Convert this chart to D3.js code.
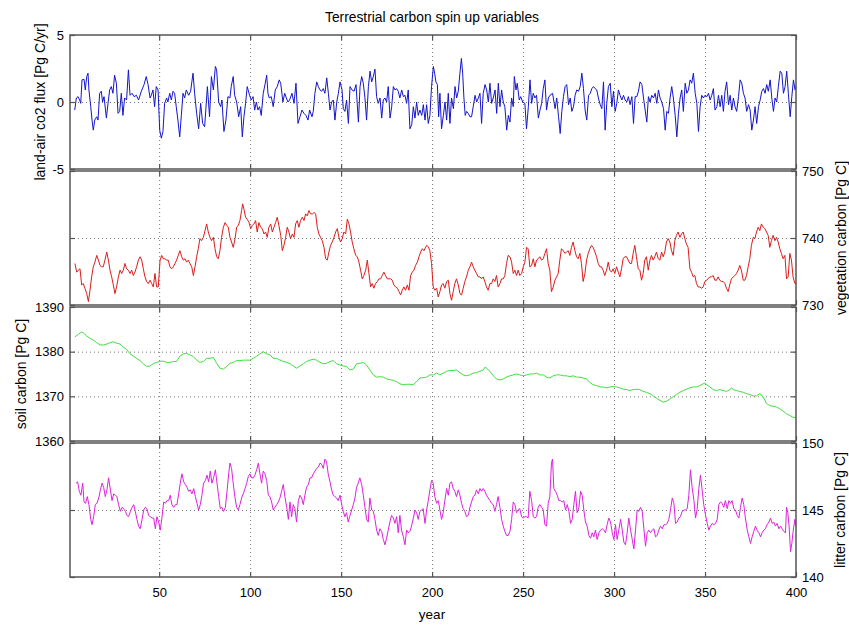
<!DOCTYPE html>
<html>
<head>
<meta charset="utf-8">
<script src="https://cdn.jsdelivr.net/npm/d3@7"></script>
<style>
  body { margin: 0; background: #fff; }
  text { font-family: "Liberation Sans", Arial, sans-serif; fill: #000; }
</style>
</head>
<body>
<div id="chart"></div>
<script>
// year axis
var yearRange = [1, 400];
var xTicks = [50, 100, 150, 200, 250, 300, 350, 400];
var xGrid = [50, 100, 150, 200, 250, 300, 350];

// land-air co2 flux [Pg C/yr]  -> [year, value]
var flux = [
[3.6,-0.6],[4.5,0.3],[5.4,0.4],[6.3,0.15],[6.9,-0.1],[7.6,1.65],[8.7,1.7],[9.4,0.9],[10.2,1.9],[10.9,2.15],
[11.4,0.9],[12.4,-0.35],[13.1,-1.35],[13.8,-2.1],[14.6,-1.35],[15.7,-1.1],[16.4,-1.35],[17.3,0.65],[18.2,0.8],[18.9,0],
[19.7,0.4],[21.0,-1.2],[21.9,-0.1],[22.8,0.9],[23.7,1.15],[24.6,0.65],[25.5,2.0],[26.5,1.4],[27.4,-0.85],[28.3,-0.7],
[29.2,0.65],[30.1,-1.0],[31.0,0.3],[32.1,0.15],[33.1,2.4],[34.0,0.5],[35.1,0.65],[36.2,0.4],[37.5,0.5],[38.7,0.15],
[40.2,0.8],[41.7,1.3],[42.9,1.9],[43.9,1.3],[45.0,0.3],[45.7,0.5],[46.6,0.9],[47.5,-0.35],[48.4,1.15],[49.4,0.9],
[50.3,-2.1],[51.2,-2.7],[52.1,-2.2],[53.0,-0.1],[54.1,0.3],[54.8,0],[55.8,0.65],[56.7,0.15],[57.6,0.8],[58.5,0.65],
[59.4,-0.35],[60.3,-1.35],[61.3,-2.6],[62.2,-1.0],[63.1,0.65],[64.0,0.3],[64.9,0.9],[66.2,0.5],[67.3,0.8],[68.6,2.15],
[69.5,0.65],[70.6,-0.85],[71.7,-2.0],[72.8,-0.1],[73.9,-1.6],[75.0,-1.85],[76.5,1.15],[77.7,-1.1],[78.7,1.9],[79.8,0.9],
[80.9,2.65],[81.6,2.4],[82.7,0],[83.8,-0.35],[84.5,0.15],[85.6,-2.2],[86.7,-1.35],[87.8,0.4],[88.9,0.3],[89.6,1.15],
[90.7,1.9],[91.5,0.5],[92.6,0],[93.7,-1.1],[94.8,-0.35],[95.7,-2.6],[96.6,-1.1],[97.5,-0.1],[98.4,1.15],[99.7,0.5],
[100.6,0.15],[101.6,0.4],[102.5,-0.6],[103.4,0],[104.3,-0.6],[105.2,-0.35],[106.1,-1.0],[107.2,0.65],[108.3,1.4],[109.1,2.0],
[109.8,0.65],[110.5,0.3],[111.6,0.4],[112.7,-0.35],[113.8,0.9],[114.9,1.15],[116.0,1.65],[116.8,1.4],[118.0,0],[119.0,0.65],
[119.9,0.3],[120.8,0],[121.7,0.15],[123.0,0.65],[124.1,-0.1],[125.2,1.4],[126.3,-1.6],[127.4,-1.1],[128.5,-0.6],[129.6,-0.85],
[130.7,-1.0],[131.8,-1.35],[132.7,-0.6],[134.0,-1.1],
[134.7,-0.7],[135.6,0.65],[136.6,1.5],[137.5,1.15],[138.4,0.9],[139.3,0.8],[140.2,1.0],[141.1,0.65],[142.1,1.8],[143.0,0.65],
[143.9,-0.6],[144.8,0],[145.7,0.15],[146.6,-1.35],[147.6,0],[148.5,0.65],[149.4,1.5],[150.5,0.9],[151.2,-0.5],[152.1,-0.7],
[153.0,0.15],[154.0,-1.6],[154.9,1.15],[156.0,0.9],[157.1,0.8],[158.2,1.3],[159.5,-1.5],[160.4,1.15],[161.3,1.9],[162.2,1.4],
[163.1,0.3],[164.0,-1.35],[165.0,1.15],[165.9,2.3],[166.8,1.5],[167.7,1.9],[168.6,2.45],[169.5,0.4],[170.4,-0.1],[171.4,0.3],
[172.3,-1.2],[173.2,0.15],[174.1,0.3],[175.0,0],[175.9,1.15],[176.9,-1.2],[177.8,-0.35],[178.7,1.15],[179.6,0.9],[180.5,1.0],
[181.4,0.8],[182.3,0.3],[183.3,0.9],[184.2,0.4],[185.1,0.5],[186.0,-0.1],[186.9,0.9],[187.8,-2.0],[188.8,-1.7],[189.7,-0.35],
[190.6,-1.2],[191.5,0],[192.4,-1.0],[193.3,-0.6],[194.3,-1.0],[195.2,-0.2],[196.1,-1.35],[197.0,-0.2],[197.9,-1.6],[198.8,-1.0],
[199.7,1.15],[200.7,2.65],[201.4,2.15],[202.1,1.5],[202.9,1.3],[203.6,-1.1],[204.3,0.65],[205.2,-2.0],[206.2,-1.0],[207.1,0],
[208.0,-1.35],[208.9,0.65],[209.8,-1.6],[210.7,0.3],[211.7,-0.5],[212.6,1.15],[213.5,0.3],[214.4,0.8],[215.3,2.15],[216.1,3.25],
[216.8,2.15],[217.5,0.3],[218.2,-1.0],[219.0,-0.7],[219.9,-0.85],[220.8,-1.1],[221.7,-1.1],[222.6,-0.35],[223.6,0.5],[224.5,0],
[225.4,0.3],[226.3,0.65],[227.2,-1.6],[228.1,0.65],[229.1,1.3],[230.0,0.9],[230.9,0],[231.8,1.4],[232.7,-0.1],[233.6,0.3],
[234.6,0.9],[235.5,-0.85],[236.4,1.4],[237.3,-0.35],[238.2,0.9],[239.1,0],[240.0,-0.35],[241.0,-2.1],[241.9,-1.0],[242.8,-1.5],
[243.7,0.3],[244.6,-0.35],[245.2,1.9],[246.1,0.9],[246.8,1.4],[247.9,0.15],[248.7,0.4],[249.8,0],[251.0,-0.1],[251.9,-2.0],
[252.9,-0.35],[253.8,1.65],[254.7,-0.1],[255.6,0.65],[256.5,0.3],[257.4,0.5],[258.4,-1.2],[259.3,-0.6],[260.2,-0.1],[261.1,1.0],
[262.0,1.65],[262.9,-0.6],[263.9,0.3],[264.8,0.5],
[266.2,0.65],[267.6,-0.5],[268.5,0.3],[269.5,-1.1],[270.4,-2.35],[271.3,-0.7],[272.2,0.4],[273.1,1.15],[274.0,1.3],[275.0,-0.2],
[275.9,0.3],[276.8,-0.7],[277.7,-0.35],[278.6,0.5],[279.5,0.9],[280.5,0.8],[281.4,1.15],[282.3,2.15],[283.2,1.0],[284.1,-0.6],
[285.0,-1.35],[286.0,0.5],[286.9,0.65],[287.8,1.0],[288.7,1.15],[289.6,1.0],[290.5,0.9],[291.4,0.3],[292.4,-0.2],[293.3,-0.5],
[294.2,1.5],[295.1,-2.1],[296.0,-0.1],[296.9,1.15],[297.9,1.4],[298.8,-0.35],[299.7,0.8],[300.6,-0.7],[301.5,-0.1],[302.4,0.9],
[303.3,0.5],[304.3,0.15],[305.2,0.5],[306.1,0.15],[307.0,0],[307.9,0.4],[308.8,-0.2],[309.8,0.4],[310.7,-1.6],[311.6,0.4],
[312.5,0.4],[313.4,0.8],[314.3,1.5],[315.3,1.3],[316.2,0.3],[317.1,-0.6],[318.0,-1.5],[318.9,0.4],[319.8,0],[320.7,0.5],
[321.7,0.3],[322.6,0.65],[323.5,-0.1],[324.4,0.9],[325.3,0.3],[326.2,0],[327.2,-0.5],[328.1,-2.1],[329.0,-0.7],[329.9,-0.85],
[330.8,0.3],[331.7,1.15],[332.6,0.3],[333.6,-1.0],[334.5,-2.6],[335.4,-0.85],[336.3,0.3],[337.2,0.9],[338.1,-0.7],[339.1,1.4],
[340.0,0.65],[340.9,0.9],[341.8,1.65],[342.7,1.4],[343.6,2.15],[344.6,0.65],[345.5,-0.1],[346.4,-2.2],[347.3,-0.35],[348.2,0.5],
[349.1,0.3],[350.0,0.5],[351.0,0.4],[351.9,0.65],[352.8,0.15],[353.7,0.5],[354.6,1.0],[355.5,-0.6],[356.5,-0.35],[357.4,0.5],
[358.3,-0.35],[359.2,0.5],[360.1,-0.7],[361.0,0.8],[361.9,1.5],[362.9,-0.2],[363.8,0.5],[364.7,-0.6],[365.6,0.3],[366.5,-0.35],
[367.4,-0.7],[368.4,0.4],[369.3,1.65],[370.2,1.4],[371.1,0.65],[372.0,0.3],[372.9,-0.7],[373.9,-0.2],[374.8,-0.6],[375.7,-2.1],
[376.6,-1.35],[377.5,-0.35],[378.4,-1.6],[379.4,-0.35],[380.3,0.15],[381.2,0.8],[382.1,1.0],[383.0,0.65],[383.9,1.3],[384.8,0.8],
[385.8,1.65],[386.7,0.3],[387.6,-0.7],[388.5,0.3],[389.4,0],[390.3,1.15],[391.3,2.3],[392.2,2.15],[393.1,0.65],[394.0,1.15],
[394.9,2.3],[395.8,0.65],[396.8,-1.1],[397.7,0.4],[398.6,1.65],[399.5,0.9],[400,1.15]
];

// vegetation carbon [Pg C]
var veg = [
[3.7,736.2],[4.7,734.9],[5.6,735.2],[6.5,735.4],[7.4,733.0],[8.3,733.2],[9.2,732.5],[10.2,731.7],[11.1,730.5],[12.0,732.2],
[12.9,734.2],[13.8,735.7],[14.7,736.4],[15.7,737.4],[16.6,736.7],[17.5,735.9],[18.4,735.7],[19.3,735.7],[20.2,736.7],[21.2,737.9],
[22.1,736.7],[23.0,735.2],[23.9,734.2],[24.8,733.0],[25.7,731.7],[26.6,732.7],[27.6,734.2],[28.5,735.2],[29.4,734.7],[30.3,735.2],
[31.2,736.2],[32.1,735.4],[33.1,735.2],[34.0,734.7],[34.9,735.2],[35.8,734.4],[36.7,734.9],[37.6,735.7],[38.6,736.7],[39.5,737.2],
[40.4,736.7],[41.3,735.4],[42.2,734.2],[43.1,733.5],[44.0,733.2],[45.0,733.7],[45.9,733.2],[46.8,732.7],[47.7,734.7],[48.6,732.7],
[49.5,732.7],[50.5,736.7],[51.4,737.4],[52.3,736.9],[53.2,736.9],[54.1,736.7],[55.0,736.7],[55.9,735.7],[56.9,735.4],[57.8,735.7],
[58.7,736.2],[59.6,736.7],[60.5,737.4],[61.4,738.1],[62.4,737.2],[63.3,736.7],[64.2,736.9],[65.1,736.4],[66.0,736.7],[66.9,736.2],
[67.9,735.7],[68.8,734.4],[69.7,735.7],[70.6,737.2],[71.5,738.4],[72.4,739.9],[73.3,739.6],[74.3,740.1],[75.2,741.1],[76.1,742.1],
[77.0,740.9],[77.9,740.1],[78.8,739.6],[79.8,740.1],[80.7,738.4],[81.6,737.2],[82.5,736.9],[83.4,738.1],[84.3,740.1],[85.3,741.6],
[86.2,742.3],[87.1,741.9],[88.0,741.6],[88.9,740.1],[89.8,739.4],[90.7,738.6],[91.7,739.9],[92.6,741.6],[93.5,741.9],[94.4,742.6],
[95.3,744.1],[95.9,745.1],[96.6,744.3],[97.5,743.1],[98.4,742.8],[99.4,742.3],[100.3,741.4],[101.2,741.9],[102.1,742.1],[103.0,742.6],
[103.9,740.9],[104.8,742.3],[105.8,741.6],[106.7,741.4],[107.6,740.6],[108.5,740.9],[109.4,740.1],[110.3,741.6],[111.3,742.1],[112.2,740.9],
[113.1,741.6],[114.0,742.3],[114.9,743.1],[115.8,741.9],[116.8,740.4],[117.7,738.1],[118.6,738.9],[119.5,740.1],[120.4,741.6],[121.3,740.9],
[122.2,739.9],[123.2,740.6],[124.1,740.1],[125.0,742.1],[125.9,742.6],[126.8,741.6],[127.7,742.6],[128.7,743.1],[129.6,742.6],[130.5,743.6],
[131.4,743.3],[132.3,744.1],[133.2,743.6],[134.2,743.6],[135.1,743.8],[136.0,743.6],[136.9,741.6],[137.8,740.6],[138.7,740.1],[139.6,739.6],
[140.6,738.6],[141.5,736.9],[142.4,736.7],[143.3,737.9],[144.2,738.9],[145.1,739.4],[146.1,740.1],[147.0,740.9],[147.9,741.4],[148.8,740.1],
[149.7,739.4],[150.6,739.9],[151.5,740.9],[152.5,740.6],[153.4,742.8],[154.3,742.1],[155.2,740.9],[156.1,739.4],[157.0,738.4],[158.0,737.4],
[158.9,737.2],[159.8,736.4],[160.7,735.2],[161.6,733.9],[162.5,734.4],[163.5,735.2],[164.4,736.7],[165.3,734.7],[166.2,732.7],[167.1,733.2],
[168.0,732.5],[168.9,733.2],[169.9,733.5],[170.8,733.9],[171.7,733.9],[172.6,734.4],[173.5,734.9],[174.4,734.4],[175.4,733.9],[176.3,733.9],
[177.2,733.9],[178.1,733.7],[179.0,733.0],[179.9,732.7],[180.9,732.5],[181.8,732.0],[182.7,731.5],[183.6,732.2],[184.5,732.7],[185.4,732.2],
[186.4,733.0],[187.3,732.2],[188.2,734.4],[189.1,734.9],[190.0,735.2],[190.9,735.9],[191.9,736.4],[192.8,737.2],[193.7,737.9],[194.6,738.4],
[195.5,738.1],[197.0,738.9],
[197.9,738.7],[198.8,738.1],[199.7,736.2],[200.6,732.7],[201.5,732.2],[202.5,732.5],[203.4,731.2],[204.3,732.0],[205.2,733.0],[206.1,733.2],
[207.0,732.5],[208.0,733.5],[208.9,733.7],[209.8,731.7],[210.7,730.7],[211.6,732.0],[212.5,733.2],[213.4,733.9],[214.4,733.0],[215.3,731.7],
[216.2,731.5],[217.1,732.5],[218.0,733.5],[218.9,734.2],[219.9,735.2],[220.8,735.7],[221.7,736.4],[222.6,735.7],[223.5,735.2],[224.4,734.7],
[225.4,734.2],[226.3,734.2],[227.2,733.9],[228.1,734.2],[229.0,733.5],[229.9,732.7],[230.8,732.2],[231.8,733.2],[232.7,733.2],[233.6,733.9],
[234.5,733.5],[235.4,734.4],[236.3,732.7],[237.3,733.2],[238.2,733.9],[239.1,733.9],[240.0,734.4],[240.9,736.2],[241.8,737.4],[242.8,737.2],
[243.7,736.4],[244.6,734.7],[245.5,735.2],[246.4,734.4],[247.3,735.2],[248.2,734.4],[249.2,734.7],[250.1,735.7],[251.0,736.4],[251.9,738.6],
[252.8,738.4],[253.7,735.7],[254.7,735.9],[255.6,736.9],[256.5,735.7],[257.4,736.7],[258.3,736.9],[259.2,737.2],[260.2,736.7],[261.1,736.9],
[262.0,737.7],[262.9,738.4],[263.8,736.2],[264.7,735.2],[265.6,732.0],[266.6,732.7],[267.5,733.7],[268.4,734.2],[269.3,734.7],[270.2,736.7],
[271.1,738.4],[272.1,738.1],[273.0,737.7],[273.9,737.9],[274.8,738.1],[275.7,737.4],[276.6,738.6],[277.5,739.4],[278.5,738.1],[279.4,737.2],
[280.3,736.9],[281.2,737.7],[282.1,736.2],[283.0,733.5],[284.0,734.7],[284.9,736.7],[285.8,737.7],[286.7,738.4],[287.6,738.9],[288.5,738.6],
[289.5,737.9],[290.4,737.2],[291.3,736.2],[292.2,735.7],[293.1,735.7],[294.0,735.2],[294.9,734.4],[295.9,735.2],[296.8,736.4],[297.7,735.2],
[298.6,734.9],[299.5,735.4],[300.4,734.7],[301.4,735.7],[302.3,734.9],[303.2,734.2],[304.1,735.4],[305.0,736.9],[305.9,737.2],[306.9,737.2],
[307.8,736.7],[308.7,736.2],[309.6,736.2],[310.5,737.7],[311.4,738.9],[312.3,737.2],[313.3,735.4],[314.2,735.2],[315.1,733.7],[316.0,734.7],
[316.9,736.7],[317.8,737.2],[318.8,735.2],[319.7,736.7],[320.6,737.4],[321.5,736.7],[322.4,737.2],[323.3,737.9],[324.3,736.9],[325.2,736.7],
[326.1,737.9],[327.0,737.2],[327.9,737.9],[328.8,739.4],[329.7,739.9],[330.7,739.4],[331.6,738.1],[332.5,737.4],[333.4,739.6],[334.3,740.4],
[335.2,740.9],[336.2,740.1],[337.1,740.6],[338.0,740.9],[338.9,739.9],[339.8,739.1],[340.7,738.6],[341.7,735.4],[342.6,734.9],[343.5,734.2],
[344.4,734.4],[345.3,733.2],[346.2,732.7],[347.1,732.7],[348.1,732.5],[349.0,732.7],[349.9,733.5],[350.8,733.7],[351.7,733.9],[352.6,734.2],
[353.6,734.2],[354.5,734.4],[355.4,733.7],[356.3,733.7],[357.2,734.2],[358.1,733.7],[359.1,733.5],[360.0,733.5],[360.9,733.2],[361.8,732.5],
[362.7,732.0],[363.6,733.0],[364.5,733.9],[365.5,734.2],[366.4,734.4],[367.3,734.7],[368.2,735.2],[369.1,735.9],[370.0,735.2],[371.0,733.7],
[371.9,733.7],[372.8,734.4],[373.7,735.7],[374.6,736.9],[375.5,738.9],[376.5,740.1],[377.4,739.9],[378.3,740.9],[379.2,741.6],[380.1,741.1],
[381.0,742.1],[382.0,741.6],[382.9,741.4],[383.8,740.9],[384.7,740.4],[385.6,738.6],[386.5,739.6],[387.4,740.4],[388.4,739.6],[389.3,740.1],
[390.2,739.4],[391.1,738.4],[392.0,737.7],[392.9,736.9],[393.9,737.4],[394.8,733.9],[395.7,734.2],[396.6,737.7],[397.5,736.7],[398.4,734.2],
[399.4,733.2],[400,733.2]
];

// soil carbon [Pg C]
var soil = [
[3.7,1383.3],[5.6,1383.9],[7.4,1384.4],[8.3,1384.2],[10.2,1383.5],[12.0,1383.0],[13.8,1382.6],[15.7,1382.0],[17.5,1381.5],[19.3,1381.5],
[21.2,1381.7],[23.0,1382.0],[24.8,1382.2],[26.6,1381.9],[28.5,1381.7],[30.3,1381.0],[32.1,1380.5],[34.0,1379.5],[35.8,1379.0],[37.6,1378.5],
[39.5,1378.0],[41.3,1377.3],[43.1,1376.7],[45.0,1376.8],[46.8,1377.3],[48.6,1377.6],[50.5,1377.8],[52.3,1377.9],[54.1,1377.6],[55.9,1377.6],
[57.8,1377.8],[59.6,1377.8],[61.4,1379.0],[63.3,1379.5],[65.1,1379.6],[66.9,1379.3],[68.8,1378.9],[70.6,1378.1],[72.4,1377.6],[74.3,1377.8],
[76.1,1378.5],[77.9,1378.5],[79.8,1378.7],[81.6,1377.4],[83.4,1376.3],[85.3,1376.1],[87.1,1376.7],[88.9,1377.4],[90.7,1377.6],[92.6,1378.0],
[94.4,1378.0],[96.2,1378.1],[98.1,1378.1],[99.9,1378.1],[101.7,1378.5],[103.6,1379.0],[105.4,1379.5],[107.2,1380.0],[109.1,1379.5],[110.9,1379.3],
[112.7,1378.5],[114.6,1378.5],[116.4,1378.1],[118.2,1377.8],[120.1,1377.6],[121.9,1377.3],[123.7,1376.8],[125.5,1376.3],[127.4,1376.8],[129.2,1377.3],
[131.0,1377.8],[132.9,1378.1],[134.7,1378.3],[136.5,1378.1],[138.4,1377.6],[140.2,1377.3],[142.0,1377.4],[143.9,1377.8],[145.7,1378.0],[147.5,1377.3],
[149.4,1377.0],[151.2,1376.8],[153.0,1376.7],[154.9,1375.9],[156.7,1376.1],[158.5,1377.3],[160.3,1377.4],[162.2,1377.6],[164.0,1377.0],[165.8,1375.9],
[167.7,1374.8],[169.5,1374.3],[171.3,1374.4],[173.2,1374.3],[175.0,1373.9],[176.8,1373.7],[178.7,1373.6],[180.5,1373.3],[182.3,1372.8],[184.2,1372.6],
[186.0,1372.7],[187.8,1372.7],[189.7,1372.6],[191.5,1373.3],[193.3,1374.1],
[197.0,1374.3],[198.8,1374.8],[200.6,1374.8],[202.5,1375.2],[204.3,1374.8],[206.1,1375.2],[208.0,1375.6],[209.8,1375.8],[211.6,1375.8],[213.4,1375.9],
[215.3,1375.3],[217.1,1374.8],[218.9,1374.6],[220.8,1374.8],[222.6,1375.2],[224.4,1375.3],[226.3,1375.6],[228.1,1375.9],[229.0,1376.5],[229.9,1376.3],
[231.8,1375.6],[233.6,1374.6],[235.4,1373.9],[237.3,1373.7],[239.1,1373.9],[240.9,1374.3],[242.8,1374.6],[244.6,1374.8],[246.4,1375.0],[248.2,1374.8],
[250.1,1374.6],[251.9,1374.8],[253.7,1375.0],[255.6,1375.0],[257.4,1375.2],[259.2,1374.8],[261.1,1374.8],[262.9,1374.3],[264.7,1374.1],[266.6,1374.6],
[268.4,1374.8],[270.2,1374.8],[272.1,1374.6],[273.9,1374.6],[275.7,1374.4],[277.5,1374.6],[279.4,1374.3],[281.2,1374.3],[283.0,1374.1],[284.9,1373.9],
[286.7,1373.1],[288.5,1372.6],[290.4,1372.4],[292.2,1372.1],[294.0,1372.1],[295.9,1371.9],[297.7,1372.1],[299.5,1372.2],[301.4,1372.1],[303.2,1371.9],
[305.0,1371.6],[306.9,1371.5],[308.7,1371.3],[310.5,1371.5],[312.3,1371.6],[314.2,1371.5],[316.0,1371.1],[317.8,1370.9],[319.7,1370.6],[321.5,1370.1],
[323.3,1369.6],[325.2,1369.1],[327.0,1368.7],[328.8,1368.9],[330.7,1369.4],[332.5,1369.9],[334.3,1370.4],[336.2,1370.9],[338.0,1371.3],[339.8,1371.6],
[341.7,1371.9],[343.5,1372.1],[345.3,1372.1],[347.1,1372.4],[349.0,1372.8],[349.9,1373.0],[350.8,1372.6],[352.6,1372.1],[354.5,1371.5],[356.3,1371.3],
[358.1,1371.5],[360.0,1371.3],[361.8,1371.1],[363.6,1371.5],[364.5,1371.9],[365.5,1371.5],[367.3,1371.3],[369.1,1371.1],[371.0,1370.9],[372.8,1370.6],
[374.6,1370.4],[376.5,1370.1],[378.3,1370.1],[380.1,1370.6],[382.0,1369.9],[383.8,1368.4],[385.6,1367.9],[387.4,1367.8],[389.3,1367.6],[391.1,1367.2],
[392.9,1366.7],[394.8,1366.1],[396.6,1365.7],[398.4,1365.3],[400,1365.2]
];

// litter carbon [Pg C]
var litter = [
[4.3,147.0],[5.2,147.1],[6.1,146.4],[7.0,146.1],[8.0,147.0],[8.7,145.6],[9.6,145.5],[10.5,146.0],[11.4,145.4],[12.4,144.3],
[13.1,143.9],[14.0,144.5],[14.9,145.4],[15.8,145.5],[16.8,145.9],[17.7,146.5],[18.6,147.0],[19.5,146.7],[20.4,146.0],[21.3,146.5],
[22.2,147.4],[23.2,146.5],[24.1,145.7],[25.0,146.2],[25.9,146.1],[26.8,146.0],[27.7,145.4],[28.7,144.9],[29.6,145.2],[30.5,145.1],
[31.4,144.9],[32.3,144.6],[33.2,144.5],[34.2,144.9],[35.1,145.2],[36.0,145.4],[36.9,144.9],[37.8,144.3],[38.7,143.8],[39.6,143.6],
[40.6,144.3],[41.5,145.0],[42.4,145.2],[43.3,145.1],[44.2,144.6],[45.1,144.5],[46.1,144.4],[47.0,144.4],[47.9,143.6],[48.8,144.5],
[49.7,144.1],[50.6,143.5],[51.6,144.5],[52.5,145.6],[53.4,145.5],[54.3,145.7],[55.2,145.7],[56.1,146.1],[57.0,145.4],[58.0,145.2],
[58.9,145.4],[59.8,145.4],[60.7,146.2],[61.6,147.0],[62.5,147.7],[63.5,147.1],[64.4,146.9],[65.3,146.7],[66.2,146.4],[67.1,146.5],
[68.0,146.2],[69.0,146.6],[69.9,146.0],[70.8,145.5],[71.7,145.0],[72.6,145.4],[73.5,146.1],[74.4,147.0],[75.4,147.2],[76.3,147.6],
[77.2,147.1],[78.1,147.9],[79.0,147.0],[79.9,147.4],[80.9,148.0],[81.8,147.0],[82.7,146.0],[83.6,145.1],[84.5,145.2],[85.4,144.9],
[86.4,145.2],[87.3,146.4],[88.2,147.7],[88.9,148.5],[89.8,148.1],[90.7,147.0],[91.7,145.9],[92.6,145.2],[93.5,145.0],[94.4,145.4],
[95.3,145.9],[96.2,146.2],[97.2,146.6],[98.1,147.0],[99.0,147.5],[99.9,147.7],[100.8,147.4],[101.7,147.4],[102.6,147.6],[103.6,148.0],
[104.5,148.5],[105.4,147.7],[106.3,147.0],[107.2,147.9],[108.1,147.7],[109.1,147.2],[110.0,146.1],[110.9,146.0],[111.8,145.6],[112.7,145.0],
[113.6,145.2],[114.6,145.4],[115.5,145.6],[116.4,145.9],[117.3,146.4],[118.2,146.9],[119.1,146.0],[120.1,145.2],[121.0,144.3],[121.9,145.6],
[122.8,144.5],[123.7,145.4],[124.6,145.1],[125.5,144.1],[126.5,145.7],[127.4,146.1],[128.3,145.9],[129.2,145.4],[130.1,146.1],[131.0,146.7],
[132.0,146.9],[132.9,147.4],[133.8,147.4],[134.7,147.7],[135.6,147.9],[136.5,148.1],[137.5,148.2],[138.4,148.5],[139.3,148.4],[140.2,148.1],
[141.1,148.8],[142.0,148.6],[142.9,147.7],[143.9,147.1],[144.8,146.5],[145.7,146.1],[146.6,146.0],[147.5,145.9],[148.4,145.7],[149.4,146.1],
[150.3,145.4],[151.2,144.9],[152.1,144.5],[153.0,144.8],[153.9,144.1],[154.9,144.6],[155.8,145.0],[156.7,145.4],[157.6,145.9],[158.5,146.7],
[159.4,147.0],[160.3,147.4],[161.3,146.9],[162.2,146.1],[163.1,145.2],[164.0,144.3],[164.9,144.1],[165.8,145.9],[166.8,145.0],[167.7,144.9],
[168.6,144.3],[169.5,143.5],[170.4,143.1],[171.3,143.6],[172.3,143.4],[173.2,142.8],[174.1,142.4],[175.0,142.9],[175.9,143.5],[176.8,144.1],
[177.7,144.6],[178.7,144.4],[179.6,144.0],[180.5,144.5],[181.4,143.3],[182.3,144.6],[183.2,143.5],[184.2,143.0],[185.1,142.4],[186.0,143.5],
[186.9,143.3],[187.8,143.4],[188.7,143.8],[189.7,144.4],[190.6,145.0],[191.5,144.8],[192.4,144.3],[193.3,144.9],[194.2,145.0],[195.1,145.1],
[196.1,144.0],
[197.0,145.0],[197.9,145.7],[198.8,146.5],[199.7,147.2],[200.6,147.0],[201.5,146.0],[202.5,145.5],[203.4,145.7],[204.3,145.0],[205.2,144.3],
[206.1,144.8],[207.0,145.7],[208.0,146.6],[208.9,146.1],[209.8,147.0],[210.7,147.1],[211.6,146.6],[212.5,146.4],[213.4,146.0],[214.4,146.5],
[215.3,146.1],[216.2,145.5],[217.1,145.1],[218.0,144.9],[218.9,144.5],[219.9,144.6],[220.8,145.2],[221.7,145.6],[222.6,146.0],[223.5,146.1],
[224.4,146.5],[225.4,146.2],[226.3,146.6],[227.2,146.4],[228.1,146.6],[229.0,146.4],[229.9,146.1],[230.8,145.9],[231.8,145.7],[232.7,145.5],
[233.6,145.4],[234.5,144.9],[235.4,145.4],[236.3,146.0],[237.3,145.2],[238.2,144.3],[239.1,143.8],[240.0,143.4],[240.9,143.1],[241.8,143.1],
[242.8,143.4],[243.7,144.3],[244.6,145.6],[245.5,145.4],[246.4,144.8],[247.3,145.0],[248.2,145.1],[249.2,144.5],[250.1,144.4],[251.0,144.5],
[251.9,144.5],[252.8,144.4],[253.7,146.4],[254.7,145.7],[255.6,144.5],[256.5,144.4],[257.4,144.5],[258.3,145.2],[259.2,145.4],[260.2,145.2],
[261.1,145.0],[262.0,143.9],[262.9,143.8],[263.8,145.5],[264.7,146.0],[265.6,148.5],[266.2,148.8],[266.9,146.6],[267.8,146.4],[268.8,146.1],
[269.7,145.7],[270.6,145.7],[271.5,145.6],[272.4,145.7],[273.3,145.0],[274.3,145.4],[275.2,144.9],[276.1,144.0],[277.0,144.3],[277.9,145.4],
[278.8,146.4],[279.7,144.8],[280.7,145.2],[281.6,146.4],[282.5,146.1],[283.4,145.0],[284.3,144.1],[285.2,143.8],[286.2,143.1],[287.1,142.9],
[288.0,143.3],[288.9,143.0],[289.8,143.5],[290.7,142.8],[291.7,143.3],[292.6,143.5],[293.5,143.6],[294.4,143.5],[295.3,143.3],[296.2,143.9],
[297.1,144.4],[298.1,144.1],[299.0,143.3],[299.9,142.8],[300.8,143.9],[301.7,142.8],[302.6,143.5],[303.6,144.3],[304.5,143.5],[305.4,142.6],
[306.3,142.4],[307.2,143.3],[308.1,144.4],[309.1,143.5],[310.0,142.8],[310.9,142.1],[311.8,143.5],[312.7,145.0],[313.6,144.9],[314.5,145.2],
[315.5,144.9],[316.4,143.6],[317.3,142.3],[318.2,143.3],[319.1,143.5],[320.0,143.3],[321.0,143.5],[321.9,143.6],[322.8,143.0],[323.7,143.1],
[324.6,143.5],[325.5,143.8],[326.5,143.6],[327.4,143.9],[328.3,143.9],[329.2,144.0],[330.1,144.3],[331.0,145.0],[332.0,145.9],[332.9,145.5],
[333.8,144.0],[334.7,144.1],[335.6,144.4],[336.5,144.5],[337.4,144.9],[338.4,145.0],[339.3,145.0],[340.2,145.1],[341.1,146.1],[342.0,148.0],
[342.9,146.7],[343.9,145.7],[344.8,144.4],[345.7,145.1],[346.6,146.6],[347.5,147.6],[348.4,146.5],[349.3,145.4],[350.3,144.6],[351.2,144.0],
[352.1,143.5],[353.0,143.8],[353.9,144.0],[354.8,143.9],[355.8,144.0],[356.7,144.3],[357.6,145.4],[358.5,145.6],[359.4,145.5],[360.3,145.2],
[361.2,145.7],[362.2,145.1],[363.1,145.7],[364.0,145.5],[364.9,145.7],[365.8,145.1],[366.7,145.0],[367.7,144.6],[368.6,144.4],[369.5,145.2],
[370.4,145.9],[371.3,145.4],[372.2,144.4],[373.2,143.5],[374.1,143.0],[375.0,142.5],[375.9,143.0],[376.8,143.4],[377.7,143.8],[378.6,143.5],
[379.6,143.3],[380.5,143.0],[381.4,143.3],[382.3,143.5],[383.2,143.6],[384.1,143.9],[385.1,144.1],[386.0,144.4],[386.9,144.0],[387.8,144.1],
[388.7,143.8],[389.6,144.0],[390.6,143.6],[391.5,143.8],[392.4,143.6],[393.3,143.4],[394.2,143.3],[394.8,145.2],[395.5,144.8],[396.2,143.8],
[397.0,141.9],[397.7,142.5],[398.4,143.4],[399.4,144.3],[400,143.8]
];

// y ranges and tick labels of the four panels
var fluxTicks = [-5, 0, 5];
var vegTicks = [730, 740, 750];
var soilTicks = [1360, 1370, 1380, 1390];
var litterTicks = [140, 145, 150];

var panels = [
  { data: flux, ticks: fluxTicks, grid: [0], side: "left", labelX: 45, color: "#1414cc",
    label: "land-air co2 flux [Pg C/yr]" },
  { data: veg, ticks: vegTicks, grid: [740], side: "right", labelX: 846, color: "#dc1c1c",
    label: "vegetation carbon [Pg C]" },
  { data: soil, ticks: soilTicks, grid: [1370, 1380], side: "left", labelX: 26, color: "#3ee03e",
    label: "soil carbon [Pg C]" },
  { data: litter, ticks: litterTicks, grid: [145], side: "right", labelX: 845, color: "#dd22dd",
    label: "litter carbon [Pg C]" }
];

var W = 849, H = 627;
var left = 70, right = 796;
var panelTop = [35, 171, 307, 443], panelH = 134;

var svg = d3.select("#chart").append("svg")
    .attr("width", W).attr("height", H);

var x = d3.scaleLinear().domain(yearRange).range([left, right]);

svg.append("text")
    .attr("x", 432).attr("y", 22)
    .attr("text-anchor", "middle")
    .style("font-size", "13.8px")
    .text("Terrestrial carbon spin up variables");

panels.forEach(function(p, i) {
  var top = panelTop[i], bottom = top + panelH;
  var y = d3.scaleLinear().domain(d3.extent(p.ticks)).range([bottom, top]);
  var g = svg.append("g");

  //dotted grid
  g.append("g").attr("transform", "translate(0," + bottom + ")")
    .call(d3.axisBottom(x).tickValues(xGrid).tickSize(-panelH).tickFormat(""))
    .call(styleGrid);
  g.append("g").attr("transform", "translate(" + left + ",0)")
    .call(d3.axisLeft(y).tickValues(p.grid).tickSize(-(right - left)).tickFormat(""))
    .call(styleGrid);

  //the series
  g.append("path")
    .datum(p.data)
    .attr("fill", "none")
    .attr("stroke", p.color)
    .attr("stroke-width", 1)
    .attr("d", d3.line().x(function(d) { return x(d[0]); }).y(function(d) { return y(d[1]); }));

  //inward ticks on all four sides
  var isLast = i === panels.length - 1;
  g.append("g").attr("transform", "translate(0," + bottom + ")")
    .call(d3.axisBottom(x).tickValues(xTicks).tickSize(-5).tickPadding(11)
      .tickFormat(isLast ? function(d) { return d; } : ""))
    .call(styleTicks);
  g.append("g").attr("transform", "translate(0," + top + ")")
    .call(d3.axisTop(x).tickValues(xTicks).tickSize(-5).tickFormat(""))
    .call(styleTicks);
  g.append("g").attr("transform", "translate(" + left + ",0)")
    .call(d3.axisLeft(y).tickValues(p.ticks).tickSize(-5).tickPadding(6)
      .tickFormat(p.side === "left" ? function(d) { return String(d); } : ""))
    .call(styleTicks);
  g.append("g").attr("transform", "translate(" + right + ",0)")
    .call(d3.axisRight(y).tickValues(p.ticks).tickSize(-5).tickPadding(6)
      .tickFormat(p.side === "right" ? function(d) { return String(d); } : ""))
    .call(styleTicks);

  //box
  g.append("rect")
    .attr("x", left).attr("y", top)
    .attr("width", right - left).attr("height", panelH)
    .attr("fill", "none")
    .attr("stroke", "#555")
    .attr("stroke-width", 1.5);

  //y label
  g.append("text")
    .attr("transform", "translate(" + p.labelX + "," + (top + panelH / 2) + ") rotate(-90)")
    .attr("text-anchor", "middle")
    .style("font-size", "14px")
    .text(p.label);
});

svg.append("text")
    .attr("x", 432).attr("y", 619)
    .attr("text-anchor", "middle")
    .style("font-size", "13.5px")
    .text("year");

function styleGrid(sel) {
  sel.select(".domain").remove();
  sel.selectAll(".tick line")
    .attr("stroke", "#777")
    .attr("stroke-dasharray", "1,3");
}

function styleTicks(sel) {
  sel.select(".domain").remove();
  sel.selectAll(".tick line").attr("stroke", "#555").attr("stroke-width", 1.2);
  sel.selectAll(".tick text")
    .attr("fill", "#000")
    .style("font-size", "13px")
    .style("font-family", "'Liberation Sans', Arial, sans-serif");
}
</script>
</body>
</html>
